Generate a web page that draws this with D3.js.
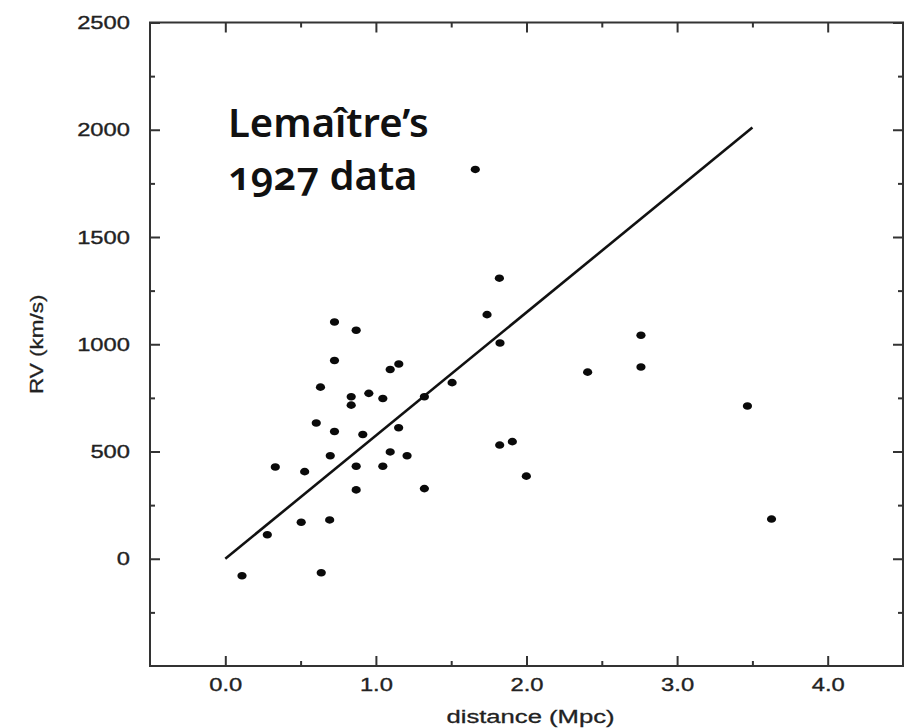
<!DOCTYPE html>
<html>
<head>
<meta charset="utf-8">
<script src="https://cdn.jsdelivr.net/npm/d3@7"></script>
<style>
  body { margin: 0; background: #fff; }
  .axis text { font-family: 'Liberation Sans', Arial, sans-serif; font-size: 19px; fill: #222; stroke: #222; stroke-width: 0.35px; }
  .axis line { stroke: #333; stroke-width: 2; }
  .title { font-family: 'Noto Sans', Lato, sans-serif; font-weight: 600; font-size: 40px; fill: #111; font-feature-settings: 'onum' 1; }
</style>
</head>
<body>
<div id="chart"></div>
<script>
// Lemaitre 1927: distance (Mpc) and radial velocity (km/s)
var distance = [0.111, 0.279, 0.332, 0.504, 0.527, 0.637, 0.604, 0.632, 0.693, 0.697,
  0.725, 0.725, 0.725, 0.869, 0.836, 0.836, 0.869, 0.869, 0.913, 0.953,
  1.046, 1.046, 1.095, 1.152, 1.095, 1.151, 1.207, 1.322, 1.322, 1.506,
  1.660, 1.738, 1.820, 1.824, 1.822, 1.906, 1.999, 2.406, 2.760, 2.760,
  3.467, 3.627]
var velocity = [-79, 112, 428, 170, 406, -65, 633, 800, 181, 480,
  1104, 924, 593, 1065, 755, 716, 431, 321, 579, 771,
  747, 431, 882, 908, 498, 611, 480, 755, 327, 821,
  1815, 1138, 1308, 1006, 530, 546, 385, 870, 1042, 894,
  712, 185]

// fitted line end points
var fitX = [0, 3.5]
var fitY = [0, 2010]

var xTicks = [0, 1, 2, 3, 4]
var xMinor = [0.5, 1.5, 2.5, 3.5]
var yTicks = [0, 500, 1000, 1500, 2000, 2500]
var yMinor = [-250, 250, 750, 1250, 1750, 2250]

var titleLines = ['Lemaître\u2019s', '1927 data']

var margin = { top: 22.5, right: 8, bottom: 62, left: 150 }
var width = 911 - margin.left - margin.right
var height = 728 - margin.top - margin.bottom

var svg = d3.select('#chart')
  .append('svg')
  .attr('width', 911)
  .attr('height', 728)
  .append('g')
  .attr('transform', 'translate(' + margin.left + ',' + margin.top + ')')

var x = d3.scaleLinear().domain([-0.5, 4.5]).range([0, width])
var y = d3.scaleLinear().domain([-500, 2500]).range([height, 0])

// frame
svg.append('rect')
  .attr('width', width)
  .attr('height', height)
  .attr('fill', 'none')
  .attr('stroke', '#333')
  .attr('stroke-width', 2)

// helper for tick sets on each side
function ticks (axis, values, size, fmt) {
  return axis.tickValues(values).tickSizeInner(-size).tickSizeOuter(0).tickFormat(fmt || '')
}

// bottom axis with labels
var bottomAxis = svg.append('g')
  .attr('class', 'axis')
  .attr('transform', 'translate(0,' + height + ')')
  .call(ticks(d3.axisBottom(x), xTicks, 10, d3.format('.1f')).tickPadding(12))
bottomAxis.append('g').call(ticks(d3.axisBottom(x), xMinor, 5))
bottomAxis.selectAll('text').attr('transform', 'scale(1.25,1)')

// top axis
var topAxis = svg.append('g').attr('class', 'axis')
topAxis.call(ticks(d3.axisTop(x), xTicks, 10))
topAxis.append('g').call(ticks(d3.axisTop(x), xMinor, 5))

// left axis with labels
var leftAxis = svg.append('g')
  .attr('class', 'axis')
  .call(ticks(d3.axisLeft(y), yTicks, 10, d3.format('d')).tickPadding(16))
leftAxis.append('g').call(ticks(d3.axisLeft(y), yMinor, 5))
leftAxis.selectAll('text').attr('transform', 'scale(1.25,1)')

// right axis
var rightAxis = svg.append('g')
  .attr('class', 'axis')
  .attr('transform', 'translate(' + width + ',0)')
rightAxis.call(ticks(d3.axisRight(y), yTicks, 10))
rightAxis.append('g').call(ticks(d3.axisRight(y), yMinor, 5))

svg.selectAll('.axis .domain').remove()

// axis titles
svg.append('text')
  .attr('transform', 'translate(' + (x(2) + 4) + ',' + (height + 57) + ') scale(1.35,1)')
  .attr('text-anchor', 'middle')
  .style('font-family', "'Liberation Sans', Arial, sans-serif")
  .style('font-size', '19px')
  .style('fill', '#222')
  .style('stroke', '#222')
  .style('stroke-width', '0.3px')
  .text('distance (Mpc)')

svg.append('text')
  .attr('transform', 'translate(' + (-107) + ',' + y(1000) + ') rotate(-90) scale(1.25,1)')
  .attr('text-anchor', 'middle')
  .style('font-family', "'Liberation Sans', Arial, sans-serif")
  .style('font-size', '18px')
  .style('fill', '#222')
  .style('stroke', '#222')
  .style('stroke-width', '0.3px')
  .text('RV (km/s)')

// fit line
svg.append('path')
  .datum(d3.range(fitX.length))
  .attr('d', d3.line()
    .x(function (i) { return x(fitX[i]) })
    .y(function (i) { return y(fitY[i]) })
  )
  .attr('stroke', '#111')
  .attr('stroke-width', 2.6)
  .attr('fill', 'none')

// points
svg.append('g')
  .selectAll('ellipse')
  .data(d3.range(distance.length))
  .enter()
  .append('ellipse')
  .attr('cx', function (i) { return x(distance[i]) })
  .attr('cy', function (i) { return y(velocity[i]) })
  .attr('rx', 4.6)
  .attr('ry', 3.8)
  .attr('fill', '#0a0a0a')

// title
svg.append('text')
  .attr('class', 'title')
  .selectAll('tspan')
  .data(titleLines)
  .enter()
  .append('tspan')
  .attr('x', 78)
  .attr('y', function (d, i) { return 114 + i * 53 })
  .text(function (d) { return d })
</script>
</body>
</html>
